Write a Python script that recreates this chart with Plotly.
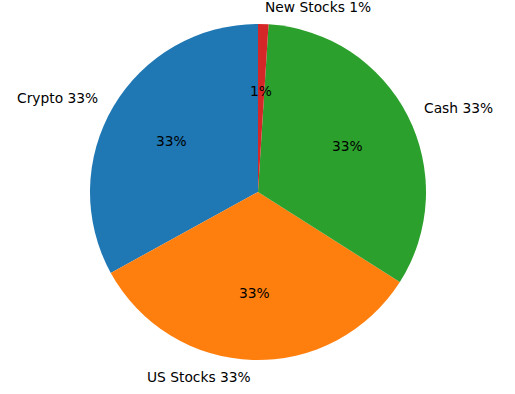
import math
import plotly.graph_objects as go

labels = ["Crypto", "US Stocks", "Cash", "New Stocks"]
values = [33, 33, 33, 1]
colors = ["#1f77b4", "#ff7f0e", "#2ca02c", "#d62728"]

W, H = 515, 394
CX, CY, R = 258, 192, 168  # pie centre and radius in pixels
FONT = dict(family="DejaVu Sans", size=13.8, color="black")

total = sum(values)
# plotly's counterclockwise mode places the first slice clockwise of the
# rotation angle; shift so the first slice starts at 12 o'clock going ccw
rot = -360.0 * values[0] / total

fig = go.Figure()
fig.add_trace(go.Pie(
    labels=labels, values=values, sort=False,
    direction="counterclockwise", rotation=rot,
    marker=dict(colors=colors, line=dict(width=0)),
    textinfo="none", hoverinfo="label+percent", showlegend=False,
    domain=dict(x=[(CX - R) / W, (CX + R) / W],
                y=[(H - CY - R) / H, (H - CY + R) / H]),
))

start = 90.0
annotations = []
for lab, v in zip(labels, values):
    span = 360.0 * v / total
    mid = math.radians(start + span / 2)
    start += span
    pct = f"{100 * v / total:.0f}%"
    ox = CX + 1.1 * R * math.cos(mid)
    oy = CY - 1.1 * R * math.sin(mid)
    annotations.append(dict(
        x=ox / W, y=1 - oy / H, xref="paper", yref="paper",
        text=f"{lab} {pct}", showarrow=False, font=FONT, borderpad=0,
        xanchor="left" if math.cos(mid) > 0 else "right", yanchor="middle"))
    ix = CX + 0.6 * R * math.cos(mid)
    iy = CY - 0.6 * R * math.sin(mid)
    annotations.append(dict(
        x=ix / W, y=1 - iy / H, xref="paper", yref="paper",
        text=pct, showarrow=False, font=FONT, borderpad=0,
        xanchor="center", yanchor="middle"))

fig.update_layout(
    width=W, height=H, margin=dict(l=0, r=0, t=0, b=0),
    paper_bgcolor="white", plot_bgcolor="white",
    annotations=annotations,
)
fig.write_html("out.html", config={"displayModeBar": False},
               post_script="document.body.style.margin='0';")
